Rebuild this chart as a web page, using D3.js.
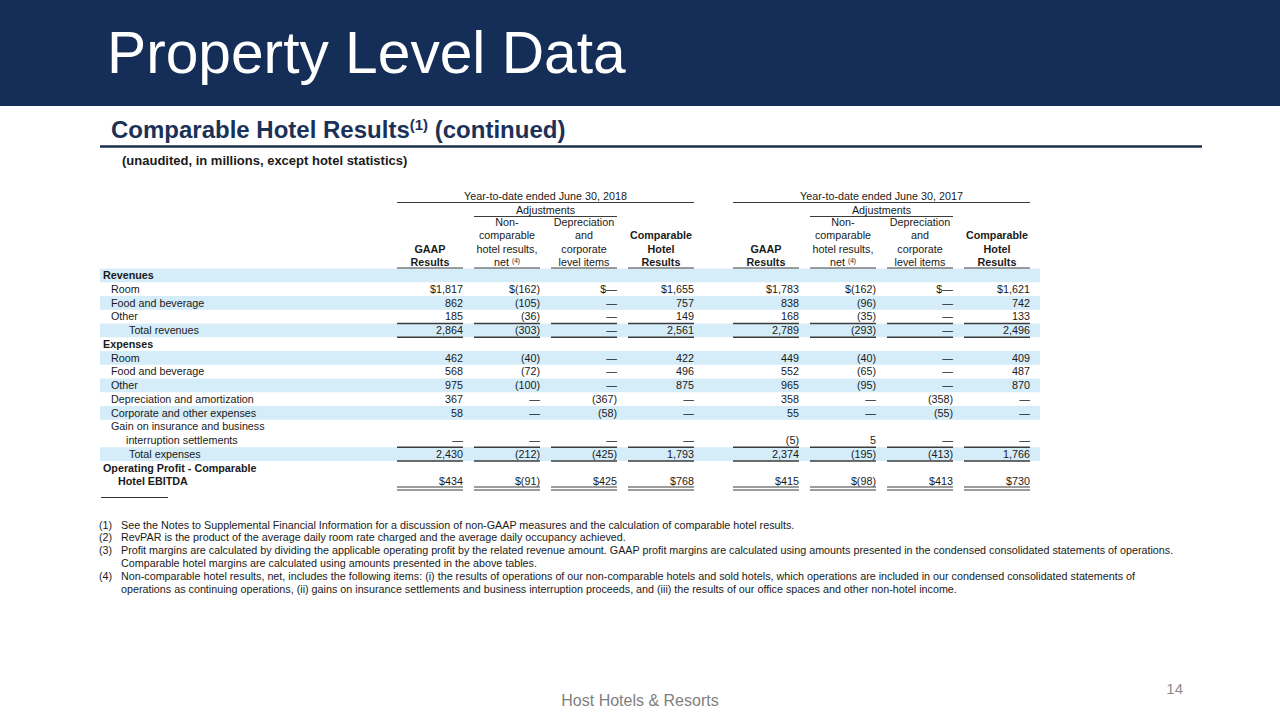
<!DOCTYPE html>
<html><head><meta charset="utf-8">
<script src="https://cdn.jsdelivr.net/npm/d3@7"></script>
<style>
body{margin:0;background:#fff}
svg{display:block}
text{font-family:"Liberation Sans",Arial,sans-serif}
</style>
</head><body>
<svg id="c" width="1280" height="720"></svg>
<script>
// ---------------- DATA ----------------
const pageTitle = "Property Level Data";
const sectionTitle = "Comparable Hotel Results";
const sectionNote = "(unaudited, in millions, except hotel statistics)";
const periods = ["Year-to-date ended June 30, 2018", "Year-to-date ended June 30, 2017"];
const columns = ["gaap", "noncomp", "dep", "comp"];
const columnHeaders = [
  ["GAAP", "Results"],
  ["Non-", "comparable", "hotel results,", "net"],
  ["Depreciation", "and", "corporate", "level items"],
  ["Comparable", "Hotel", "Results"]
];
const rowLabels = [
  "Revenues", "Room", "Food and beverage", "Other", "Total revenues",
  "Expenses", "Room", "Food and beverage", "Other", "Depreciation and amortization",
  "Corporate and other expenses", "Gain on insurance and business", "interruption settlements",
  "Total expenses", "Operating Profit - Comparable", "Hotel EBITDA"
];
const rowKinds = [
  "section", "item", "item", "item", "total",
  "section", "item", "item", "item", "item",
  "item", "item", "cont", "total", "section", "sectioncont"
];
// lines that carry values (index into rowLabels)
const valueLines = [1, 2, 3, 4, 6, 7, 8, 9, 10, 12, 13, 15];
const dollarValues = [0, 11]; // value positions shown with a $ sign
// values; 0 shown as an em dash
const gaap2018    = [1817, 862, 185, 2864, 462, 568, 975, 367, 58, 0, 2430, 434];
const noncomp2018 = [-162, -105, -36, -303, -40, -72, -100, 0, 0, 0, -212, -91];
const dep2018     = [0, 0, 0, 0, 0, 0, 0, -367, -58, 0, -425, 425];
const comp2018    = [1655, 757, 149, 2561, 422, 496, 875, 0, 0, 0, 1793, 768];
const gaap2017    = [1783, 838, 168, 2789, 449, 552, 965, 358, 55, -5, 2374, 415];
const noncomp2017 = [-162, -96, -35, -293, -40, -65, -95, 0, 0, 5, -195, -98];
const dep2017     = [0, 0, 0, 0, 0, 0, 0, -358, -55, 0, -413, 413];
const comp2017    = [1621, 742, 133, 2496, 409, 487, 870, 0, 0, 0, 1766, 730];
const bandedLines = [0, 2, 4, 6, 8, 10, 13];
const footnotes = [
  ["(1)", "See the Notes to Supplemental Financial Information for a discussion of non-GAAP measures and the calculation of comparable hotel results."],
  ["(2)", "RevPAR is the product of the average daily room rate charged and the average daily occupancy achieved."],
  ["(3)", "Profit margins are calculated by dividing the applicable operating profit by the related revenue amount. GAAP profit margins are calculated using amounts presented in the condensed consolidated statements of operations."],
  ["", "Comparable hotel margins are calculated using amounts presented in the above tables."],
  ["(4)", "Non-comparable hotel results, net, includes the following items: (i) the results of operations of our non-comparable hotels and sold hotels, which operations are included in our condensed consolidated statements of"],
  ["", "operations as continuing operations, (ii) gains on insurance settlements and business interruption proceeds, and (iii) the results of our office spaces and other non-hotel income."]
];
const footerText = "Host Hotels & Resorts";
const pageNumber = "14";

// ---------------- DRAW ----------------
const svg = d3.select("#c");
const NAVY = "#142e57", BAND = "#d5ecf9", TXT = "#1a1a1a", RULE = "#3c3c3c";
const FS = 10.75;

// header bar
svg.append("rect").attr("x", 0).attr("y", 0).attr("width", 1280).attr("height", 106).attr("fill", NAVY);
svg.append("text").attr("x", 107).attr("y", 73).attr("fill", "#fff")
  .attr("font-size", 58.7).text(pageTitle);

// section title
const st = svg.append("text").attr("x", 111).attr("y", 138).attr("fill", "#1b3157")
  .attr("font-size", 24).attr("font-weight", "bold");
st.append("tspan").text(sectionTitle);
st.append("tspan").attr("font-size", 15).attr("dy", -8).text("(1)");
st.append("tspan").attr("dy", 8).text(" (continued)");
svg.append("line").attr("x1", 100).attr("x2", 1202).attr("y1", 146.5).attr("y2", 146.5)
  .attr("stroke", "#1d2f4d").attr("stroke-width", 2.5);
svg.append("text").attr("x", 122).attr("y", 165).attr("fill", TXT)
  .attr("font-size", 13).attr("font-weight", "bold").text(sectionNote);

// scales
const xGroup = d3.scaleBand().domain(periods).range([397, 1030]).paddingInner(39 / 336);
const xCol = d3.scaleBand().domain(columns).range([0, xGroup.bandwidth()]).paddingInner(11 / 77);
const y = d3.scaleBand().domain(d3.range(rowLabels.length)).range([268.5, 268.5 + rowLabels.length * 13.75]);
const colStart = (p, c) => xGroup(p) + xCol(c);
const colEnd = (p, c) => xGroup(p) + xCol(c) + xCol.bandwidth();

// banding
svg.append("g").selectAll("rect").data(bandedLines).join("rect")
  .attr("x", 100).attr("width", 940)
  .attr("y", d => y(d)).attr("height", y.bandwidth())
  .attr("fill", BAND);

// column headers
const hdr = svg.append("g").attr("fill", TXT).attr("font-size", FS);
periods.forEach(p => {
  const g0 = xGroup(p), g1 = g0 + xGroup.bandwidth();
  hdr.append("text").attr("x", (g0 + g1) / 2).attr("y", 199.8).attr("text-anchor", "middle").text(p);
  hdr.append("line").attr("x1", g0).attr("x2", g1).attr("y1", 202.5).attr("y2", 202.5).attr("stroke", RULE).attr("stroke-width", 1.1);
  const a0 = colStart(p, "noncomp"), a1 = colEnd(p, "dep");
  hdr.append("text").attr("x", (a0 + a1) / 2).attr("y", 213.5).attr("text-anchor", "middle").text("Adjustments");
  hdr.append("line").attr("x1", a0).attr("x2", a1).attr("y1", 216.5).attr("y2", 216.5).attr("stroke", RULE).attr("stroke-width", 1.1);
  columns.forEach((c, ci) => {
    const lines = columnHeaders[ci];
    const bold = (c === "gaap" || c === "comp");
    const cx = colStart(p, c) + xCol.bandwidth() / 2;
    lines.forEach((t, li) => {
      const tx = hdr.append("text").attr("x", cx).attr("y", 266 - (lines.length - 1 - li) * 13.3)
        .attr("text-anchor", "middle").attr("font-weight", bold ? "bold" : "normal");
      tx.append("tspan").text(t);
      if (c === "noncomp" && li === lines.length - 1) {
        tx.append("tspan").attr("font-size", 6.5).attr("dx", 3).attr("dy", -3).text("(4)");
      }
    });
    hdr.append("line").attr("x1", colStart(p, c)).attr("x2", colEnd(p, c)).attr("y1", 268).attr("y2", 268)
      .attr("stroke", RULE).attr("stroke-width", 1.2);
  });
});

// row labels
const indent = {section: 103, item: 111, total: 129, cont: 126, sectioncont: 118};
svg.append("g").selectAll("text").data(rowLabels).join("text")
  .attr("x", (d, i) => indent[rowKinds[i]])
  .attr("y", (d, i) => y(i) + y.bandwidth() / 2 + 3.8)
  .attr("font-size", FS).attr("fill", TXT)
  .attr("font-weight", (d, i) => rowKinds[i].startsWith("section") ? "bold" : "normal")
  .text(d => d);

// values
const series = {
  [periods[0]]: {gaap: gaap2018, noncomp: noncomp2018, dep: dep2018, comp: comp2018},
  [periods[1]]: {gaap: gaap2017, noncomp: noncomp2017, dep: dep2017, comp: comp2017}
};
const fmt = d3.format(",");
function fmtVal(v, k) {
  const pre = dollarValues.includes(k) ? "$" : "";
  if (v === 0) return pre + "\u2014";
  if (v < 0) return pre + "(" + fmt(-v) + ")";
  return pre + fmt(v);
}
const cells = [];
periods.forEach(p => columns.forEach(c => series[p][c].forEach((v, k) => cells.push({p, c, v, k}))));
svg.append("g").selectAll("text").data(cells).join("text")
  .attr("x", d => colEnd(d.p, d.c))
  .attr("y", d => y(valueLines[d.k]) + y.bandwidth() / 2 + 3.8)
  .attr("text-anchor", "end").attr("font-size", FS).attr("fill", TXT)
  .text(d => fmtVal(d.v, d.k));

// rules in body
const ruleYs = [y(4), y(4) + y.bandwidth(), y(13), y(13) + y.bandwidth()];
const rules = svg.append("g").attr("stroke", RULE);
periods.forEach(p => columns.forEach(c => {
  ruleYs.forEach(yy => rules.append("line").attr("x1", colStart(p, c)).attr("x2", colEnd(p, c))
    .attr("y1", yy).attr("y2", yy).attr("stroke-width", 1.3));
  const yb = y(15) + y.bandwidth() - 1.5;
  [yb, yb + 3].forEach(yy => rules.append("line").attr("x1", colStart(p, c)).attr("x2", colEnd(p, c))
    .attr("y1", yy).attr("y2", yy).attr("stroke-width", 1.1));
}));

// footnote separator
svg.append("line").attr("x1", 101).attr("x2", 168).attr("y1", 497.5).attr("y2", 497.5)
  .attr("stroke", "#333").attr("stroke-width", 1);

// footnotes
const fnY = [528.5, 541.3, 554, 566.8, 580, 592.7];
const fn = svg.append("g").attr("font-size", 10.75).attr("fill", TXT);
footnotes.forEach((f, i) => {
  if (f[0]) fn.append("text").attr("x", 99).attr("y", fnY[i]).text(f[0]);
  fn.append("text").attr("x", 121).attr("y", fnY[i]).text(f[1]);
});

// footer
svg.append("text").attr("x", 640).attr("y", 706).attr("text-anchor", "middle")
  .attr("font-size", 16).attr("fill", "#7f7f7f").text(footerText);
svg.append("text").attr("x", 1183).attr("y", 694).attr("text-anchor", "end")
  .attr("font-size", 15).attr("fill", "#8c8c8c").text(pageNumber);
</script>
</body></html>
